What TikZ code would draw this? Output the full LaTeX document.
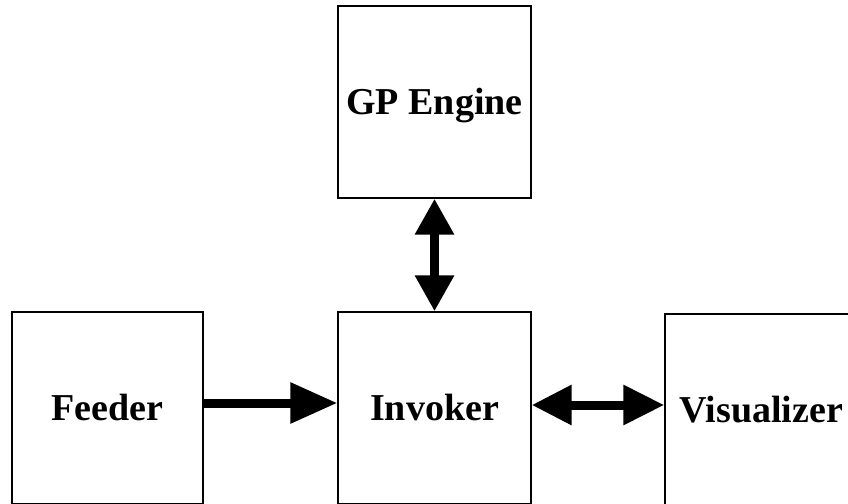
\documentclass[tikz,border=0pt]{standalone}
\usepackage{fontspec}
\setmainfont{Liberation Serif}
\usetikzlibrary{arrows.meta,calc}
\tikzset{
  box/.style={draw=black,line width=1.3pt,rectangle,inner sep=0pt,
    minimum width=193pt,minimum height=192pt,
    font=\fontsize{38}{40}\selectfont\bfseries,text height=25pt,text depth=0pt},
  arrone/.style={line width=9pt,-{Triangle[length=47pt,width=39pt]}},
  arrtwo/.style={line width=9pt,{Triangle[length=36pt,width=37pt]}-{Triangle[length=36pt,width=37pt]}},
  arrthree/.style={line width=9pt,{Triangle[length=40pt,width=38pt]}-{Triangle[length=41pt,width=38pt]}}
}
\begin{document}
\begin{tikzpicture}[x=1pt,y=-1pt]
\useasboundingbox (0,0) rectangle (848,503);
\clip (0,0) rectangle (848,503);
\fill[white] (0,0) rectangle (848,503);
\node[box] (gp) at (434.5,102) {GP Engine};
\node[box,minimum width=191pt] (feeder) at (107.5,408) {Feeder};
\node[box] (invoker) at (434.5,408) {Invoker};
\node[box] (vis) at (761.5,410) {Visualizer};
\draw[arrone] ($(feeder.east)+(0,-5)$) -- ($(invoker.west)+(0,-5)$);
\draw[arrtwo] (gp.south) -- (invoker.north);
\draw[arrthree] ($(invoker.east)+(0,-3)$) -- ($(vis.west)+(0,-5)$);
\end{tikzpicture}
\end{document}
